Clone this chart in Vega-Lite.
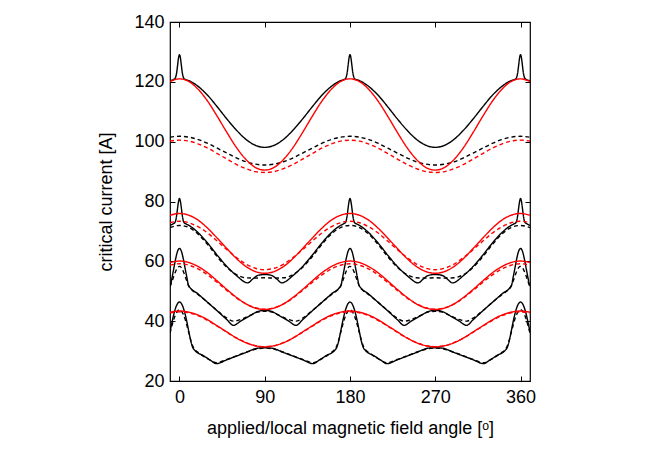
{
"$schema":"https://vega.github.io/schema/vega-lite/v6.json",
"width":360,"height":359,
"autosize":{"type":"none"},
"padding":{"left":170,"top":22,"right":124,"bottom":77},
"background":"white",
"config":{"view":{"stroke":"black","strokeWidth":1.2},"font":"Liberation Sans",
"axis":{"domain":false,"grid":false,"tickSize":-5,"tickColor":"black","tickWidth":1,"labelFont":"Liberation Sans","labelFontSize":18,"labelColor":"black","titleFont":"Liberation Sans","titleFontSize":18,"titleColor":"black","titleFontWeight":"normal"}},
"data":{"values":[
{"angle":-10,"Ic":120.4,"curve":"A1"},{"angle":-5,"Ic":121.0,"curve":"A1"},{"angle":-4,"Ic":121.6,"curve":"A1"},{"angle":-3,"Ic":123.0,"curve":"A1"},{"angle":-2,"Ic":125.5,"curve":"A1"},{"angle":-1,"Ic":128.0,"curve":"A1"},{"angle":0,"Ic":129.1,"curve":"A1"},{"angle":1,"Ic":128.0,"curve":"A1"},{"angle":2,"Ic":125.5,"curve":"A1"},{"angle":3,"Ic":123.0,"curve":"A1"},{"angle":4,"Ic":121.6,"curve":"A1"},{"angle":5,"Ic":121.0,"curve":"A1"},{"angle":10,"Ic":120.4,"curve":"A1"},{"angle":20,"Ic":118.4,"curve":"A1"},{"angle":30,"Ic":115.4,"curve":"A1"},{"angle":40,"Ic":111.6,"curve":"A1"},{"angle":50,"Ic":107.6,"curve":"A1"},{"angle":60,"Ic":103.9,"curve":"A1"},{"angle":70,"Ic":100.8,"curve":"A1"},{"angle":80,"Ic":98.8,"curve":"A1"},{"angle":90,"Ic":98.1,"curve":"A1"},
{"angle":100,"Ic":98.8,"curve":"A1"},{"angle":110,"Ic":100.8,"curve":"A1"},{"angle":120,"Ic":103.9,"curve":"A1"},{"angle":130,"Ic":107.6,"curve":"A1"},{"angle":140,"Ic":111.6,"curve":"A1"},{"angle":150,"Ic":115.4,"curve":"A1"},{"angle":160,"Ic":118.4,"curve":"A1"},{"angle":170,"Ic":120.4,"curve":"A1"},{"angle":175,"Ic":121.0,"curve":"A1"},{"angle":176,"Ic":121.6,"curve":"A1"},{"angle":177,"Ic":123.0,"curve":"A1"},{"angle":178,"Ic":125.5,"curve":"A1"},{"angle":179,"Ic":128.0,"curve":"A1"},{"angle":180,"Ic":129.1,"curve":"A1"},
{"angle":181,"Ic":128.0,"curve":"A1"},{"angle":182,"Ic":125.5,"curve":"A1"},{"angle":183,"Ic":123.0,"curve":"A1"},{"angle":184,"Ic":121.6,"curve":"A1"},{"angle":185,"Ic":121.0,"curve":"A1"},{"angle":190,"Ic":120.4,"curve":"A1"},{"angle":200,"Ic":118.4,"curve":"A1"},{"angle":210,"Ic":115.4,"curve":"A1"},{"angle":220,"Ic":111.6,"curve":"A1"},{"angle":230,"Ic":107.6,"curve":"A1"},{"angle":240,"Ic":103.9,"curve":"A1"},{"angle":250,"Ic":100.8,"curve":"A1"},{"angle":260,"Ic":98.8,"curve":"A1"},{"angle":270,"Ic":98.1,"curve":"A1"},
{"angle":280,"Ic":98.8,"curve":"A1"},{"angle":290,"Ic":100.8,"curve":"A1"},{"angle":300,"Ic":103.9,"curve":"A1"},{"angle":310,"Ic":107.6,"curve":"A1"},{"angle":320,"Ic":111.6,"curve":"A1"},{"angle":330,"Ic":115.4,"curve":"A1"},{"angle":340,"Ic":118.4,"curve":"A1"},{"angle":350,"Ic":120.4,"curve":"A1"},{"angle":355,"Ic":121.0,"curve":"A1"},{"angle":356,"Ic":121.6,"curve":"A1"},{"angle":357,"Ic":123.0,"curve":"A1"},{"angle":358,"Ic":125.5,"curve":"A1"},{"angle":359,"Ic":128.0,"curve":"A1"},{"angle":360,"Ic":129.1,"curve":"A1"},
{"angle":361,"Ic":128.0,"curve":"A1"},{"angle":362,"Ic":125.5,"curve":"A1"},{"angle":363,"Ic":123.0,"curve":"A1"},{"angle":364,"Ic":121.6,"curve":"A1"},{"angle":365,"Ic":121.0,"curve":"A1"},{"angle":370,"Ic":120.4,"curve":"A1"},

{"angle":-10,"Ic":101.5,"curve":"A2"},{"angle":0,"Ic":101.8,"curve":"A2"},{"angle":10,"Ic":101.5,"curve":"A2"},{"angle":20,"Ic":100.7,"curve":"A2"},{"angle":30,"Ic":99.4,"curve":"A2"},{"angle":40,"Ic":97.8,"curve":"A2"},{"angle":50,"Ic":96.2,"curve":"A2"},{"angle":60,"Ic":94.6,"curve":"A2"},{"angle":70,"Ic":93.3,"curve":"A2"},{"angle":80,"Ic":92.5,"curve":"A2"},{"angle":90,"Ic":92.2,"curve":"A2"},{"angle":100,"Ic":92.5,"curve":"A2"},{"angle":110,"Ic":93.3,"curve":"A2"},{"angle":120,"Ic":94.6,"curve":"A2"},{"angle":130,"Ic":96.2,"curve":"A2"},{"angle":140,"Ic":97.8,"curve":"A2"},{"angle":150,"Ic":99.4,"curve":"A2"},{"angle":160,"Ic":100.7,"curve":"A2"},{"angle":170,"Ic":101.5,"curve":"A2"},{"angle":180,"Ic":101.8,"curve":"A2"},{"angle":190,"Ic":101.5,"curve":"A2"},{"angle":200,"Ic":100.7,"curve":"A2"},{"angle":210,"Ic":99.4,"curve":"A2"},{"angle":220,"Ic":97.8,"curve":"A2"},{"angle":230,"Ic":96.2,"curve":"A2"},{"angle":240,"Ic":94.6,"curve":"A2"},{"angle":250,"Ic":93.3,"curve":"A2"},{"angle":260,"Ic":92.5,"curve":"A2"},{"angle":270,"Ic":92.2,"curve":"A2"},{"angle":280,"Ic":92.5,"curve":"A2"},{"angle":290,"Ic":93.3,"curve":"A2"},{"angle":300,"Ic":94.6,"curve":"A2"},{"angle":310,"Ic":96.2,"curve":"A2"},{"angle":320,"Ic":97.8,"curve":"A2"},{"angle":330,"Ic":99.4,"curve":"A2"},{"angle":340,"Ic":100.7,"curve":"A2"},{"angle":350,"Ic":101.5,"curve":"A2"},{"angle":360,"Ic":101.8,"curve":"A2"},{"angle":370,"Ic":101.5,"curve":"A2"},

{"angle":-10,"Ic":120.1,"curve":"A3"},{"angle":0,"Ic":121.0,"curve":"A3"},{"angle":10,"Ic":120.1,"curve":"A3"},{"angle":20,"Ic":117.4,"curve":"A3"},{"angle":30,"Ic":113.4,"curve":"A3"},{"angle":40,"Ic":108.4,"curve":"A3"},{"angle":50,"Ic":103.1,"curve":"A3"},{"angle":60,"Ic":98.1,"curve":"A3"},{"angle":70,"Ic":94.1,"curve":"A3"},{"angle":80,"Ic":91.4,"curve":"A3"},{"angle":90,"Ic":90.5,"curve":"A3"},{"angle":100,"Ic":91.4,"curve":"A3"},{"angle":110,"Ic":94.1,"curve":"A3"},{"angle":120,"Ic":98.1,"curve":"A3"},{"angle":130,"Ic":103.1,"curve":"A3"},{"angle":140,"Ic":108.4,"curve":"A3"},{"angle":150,"Ic":113.4,"curve":"A3"},{"angle":160,"Ic":117.4,"curve":"A3"},{"angle":170,"Ic":120.1,"curve":"A3"},{"angle":180,"Ic":121.0,"curve":"A3"},{"angle":190,"Ic":120.1,"curve":"A3"},{"angle":200,"Ic":117.4,"curve":"A3"},{"angle":210,"Ic":113.4,"curve":"A3"},{"angle":220,"Ic":108.4,"curve":"A3"},{"angle":230,"Ic":103.1,"curve":"A3"},{"angle":240,"Ic":98.1,"curve":"A3"},{"angle":250,"Ic":94.1,"curve":"A3"},{"angle":260,"Ic":91.4,"curve":"A3"},{"angle":270,"Ic":90.5,"curve":"A3"},{"angle":280,"Ic":91.4,"curve":"A3"},{"angle":290,"Ic":94.1,"curve":"A3"},{"angle":300,"Ic":98.1,"curve":"A3"},{"angle":310,"Ic":103.1,"curve":"A3"},{"angle":320,"Ic":108.4,"curve":"A3"},{"angle":330,"Ic":113.4,"curve":"A3"},{"angle":340,"Ic":117.4,"curve":"A3"},{"angle":350,"Ic":120.1,"curve":"A3"},{"angle":360,"Ic":121.0,"curve":"A3"},{"angle":370,"Ic":120.1,"curve":"A3"},

{"angle":-10,"Ic":100.2,"curve":"A4"},{"angle":0,"Ic":100.5,"curve":"A4"},{"angle":10,"Ic":100.2,"curve":"A4"},{"angle":20,"Ic":99.2,"curve":"A4"},{"angle":30,"Ic":97.8,"curve":"A4"},{"angle":40,"Ic":96.0,"curve":"A4"},{"angle":50,"Ic":94.2,"curve":"A4"},{"angle":60,"Ic":92.4,"curve":"A4"},{"angle":70,"Ic":91.0,"curve":"A4"},{"angle":80,"Ic":90.0,"curve":"A4"},{"angle":90,"Ic":89.7,"curve":"A4"},{"angle":100,"Ic":90.0,"curve":"A4"},{"angle":110,"Ic":91.0,"curve":"A4"},{"angle":120,"Ic":92.4,"curve":"A4"},{"angle":130,"Ic":94.2,"curve":"A4"},{"angle":140,"Ic":96.0,"curve":"A4"},{"angle":150,"Ic":97.8,"curve":"A4"},{"angle":160,"Ic":99.2,"curve":"A4"},{"angle":170,"Ic":100.2,"curve":"A4"},{"angle":180,"Ic":100.5,"curve":"A4"},{"angle":190,"Ic":100.2,"curve":"A4"},{"angle":200,"Ic":99.2,"curve":"A4"},{"angle":210,"Ic":97.8,"curve":"A4"},{"angle":220,"Ic":96.0,"curve":"A4"},{"angle":230,"Ic":94.2,"curve":"A4"},{"angle":240,"Ic":92.4,"curve":"A4"},{"angle":250,"Ic":91.0,"curve":"A4"},{"angle":260,"Ic":90.0,"curve":"A4"},{"angle":270,"Ic":89.7,"curve":"A4"},{"angle":280,"Ic":90.0,"curve":"A4"},{"angle":290,"Ic":91.0,"curve":"A4"},{"angle":300,"Ic":92.4,"curve":"A4"},{"angle":310,"Ic":94.2,"curve":"A4"},{"angle":320,"Ic":96.0,"curve":"A4"},{"angle":330,"Ic":97.8,"curve":"A4"},{"angle":340,"Ic":99.2,"curve":"A4"},{"angle":350,"Ic":100.2,"curve":"A4"},{"angle":360,"Ic":100.5,"curve":"A4"},{"angle":370,"Ic":100.2,"curve":"A4"},

{"angle":-10,"Ic":72.0,"curve":"B1"},{"angle":-7,"Ic":72.5,"curve":"B1"},{"angle":-5,"Ic":72.9,"curve":"B1"},{"angle":-4,"Ic":73.6,"curve":"B1"},{"angle":-3,"Ic":75.3,"curve":"B1"},{"angle":-2,"Ic":77.8,"curve":"B1"},{"angle":-1,"Ic":80.0,"curve":"B1"},{"angle":0,"Ic":81.0,"curve":"B1"},{"angle":1,"Ic":80.0,"curve":"B1"},{"angle":2,"Ic":77.8,"curve":"B1"},{"angle":3,"Ic":75.3,"curve":"B1"},{"angle":4,"Ic":73.6,"curve":"B1"},{"angle":5,"Ic":72.9,"curve":"B1"},{"angle":7,"Ic":72.5,"curve":"B1"},{"angle":10,"Ic":72.0,"curve":"B1"},{"angle":20,"Ic":69.5,"curve":"B1"},{"angle":30,"Ic":66.0,"curve":"B1"},{"angle":40,"Ic":62.0,"curve":"B1"},{"angle":50,"Ic":58.3,"curve":"B1"},{"angle":60,"Ic":55.3,"curve":"B1"},{"angle":72,"Ic":52.8,"curve":"B1"},{"angle":77,"Ic":54.0,"curve":"B1"},{"angle":82,"Ic":55.2,"curve":"B1"},{"angle":86,"Ic":55.5,"curve":"B1"},{"angle":90,"Ic":55.6,"curve":"B1"},
{"angle":94,"Ic":55.5,"curve":"B1"},{"angle":98,"Ic":55.2,"curve":"B1"},{"angle":103,"Ic":54.0,"curve":"B1"},{"angle":108,"Ic":52.8,"curve":"B1"},{"angle":120,"Ic":55.3,"curve":"B1"},{"angle":130,"Ic":58.3,"curve":"B1"},{"angle":140,"Ic":62.0,"curve":"B1"},{"angle":150,"Ic":66.0,"curve":"B1"},{"angle":160,"Ic":69.5,"curve":"B1"},{"angle":170,"Ic":72.0,"curve":"B1"},{"angle":173,"Ic":72.5,"curve":"B1"},{"angle":175,"Ic":72.9,"curve":"B1"},{"angle":176,"Ic":73.6,"curve":"B1"},{"angle":177,"Ic":75.3,"curve":"B1"},{"angle":178,"Ic":77.8,"curve":"B1"},{"angle":179,"Ic":80.0,"curve":"B1"},{"angle":180,"Ic":81.0,"curve":"B1"},
{"angle":181,"Ic":80.0,"curve":"B1"},{"angle":182,"Ic":77.8,"curve":"B1"},{"angle":183,"Ic":75.3,"curve":"B1"},{"angle":184,"Ic":73.6,"curve":"B1"},{"angle":185,"Ic":72.9,"curve":"B1"},{"angle":187,"Ic":72.5,"curve":"B1"},{"angle":190,"Ic":72.0,"curve":"B1"},{"angle":200,"Ic":69.5,"curve":"B1"},{"angle":210,"Ic":66.0,"curve":"B1"},{"angle":220,"Ic":62.0,"curve":"B1"},{"angle":230,"Ic":58.3,"curve":"B1"},{"angle":240,"Ic":55.3,"curve":"B1"},{"angle":252,"Ic":52.8,"curve":"B1"},{"angle":257,"Ic":54.0,"curve":"B1"},{"angle":262,"Ic":55.2,"curve":"B1"},{"angle":266,"Ic":55.5,"curve":"B1"},{"angle":270,"Ic":55.6,"curve":"B1"},
{"angle":274,"Ic":55.5,"curve":"B1"},{"angle":278,"Ic":55.2,"curve":"B1"},{"angle":283,"Ic":54.0,"curve":"B1"},{"angle":288,"Ic":52.8,"curve":"B1"},{"angle":300,"Ic":55.3,"curve":"B1"},{"angle":310,"Ic":58.3,"curve":"B1"},{"angle":320,"Ic":62.0,"curve":"B1"},{"angle":330,"Ic":66.0,"curve":"B1"},{"angle":340,"Ic":69.5,"curve":"B1"},{"angle":350,"Ic":72.0,"curve":"B1"},{"angle":353,"Ic":72.5,"curve":"B1"},{"angle":355,"Ic":72.9,"curve":"B1"},{"angle":356,"Ic":73.6,"curve":"B1"},{"angle":357,"Ic":75.3,"curve":"B1"},{"angle":358,"Ic":77.8,"curve":"B1"},{"angle":359,"Ic":80.0,"curve":"B1"},{"angle":360,"Ic":81.0,"curve":"B1"},
{"angle":361,"Ic":80.0,"curve":"B1"},{"angle":362,"Ic":77.8,"curve":"B1"},{"angle":363,"Ic":75.3,"curve":"B1"},{"angle":364,"Ic":73.6,"curve":"B1"},{"angle":365,"Ic":72.9,"curve":"B1"},{"angle":367,"Ic":72.5,"curve":"B1"},{"angle":370,"Ic":72.0,"curve":"B1"},

{"angle":-10,"Ic":71.3,"curve":"B2"},{"angle":0,"Ic":72.0,"curve":"B2"},{"angle":10,"Ic":71.3,"curve":"B2"},{"angle":20,"Ic":69.0,"curve":"B2"},{"angle":30,"Ic":65.5,"curve":"B2"},{"angle":40,"Ic":61.5,"curve":"B2"},{"angle":50,"Ic":58.0,"curve":"B2"},{"angle":60,"Ic":55.6,"curve":"B2"},{"angle":70,"Ic":54.5,"curve":"B2"},{"angle":80,"Ic":54.4,"curve":"B2"},{"angle":90,"Ic":54.5,"curve":"B2"},{"angle":100,"Ic":54.4,"curve":"B2"},{"angle":110,"Ic":54.5,"curve":"B2"},{"angle":120,"Ic":55.6,"curve":"B2"},{"angle":130,"Ic":58.0,"curve":"B2"},{"angle":140,"Ic":61.5,"curve":"B2"},{"angle":150,"Ic":65.5,"curve":"B2"},{"angle":160,"Ic":69.0,"curve":"B2"},{"angle":170,"Ic":71.3,"curve":"B2"},{"angle":180,"Ic":72.0,"curve":"B2"},{"angle":190,"Ic":71.3,"curve":"B2"},{"angle":200,"Ic":69.0,"curve":"B2"},{"angle":210,"Ic":65.5,"curve":"B2"},{"angle":220,"Ic":61.5,"curve":"B2"},{"angle":230,"Ic":58.0,"curve":"B2"},{"angle":240,"Ic":55.6,"curve":"B2"},{"angle":250,"Ic":54.5,"curve":"B2"},{"angle":260,"Ic":54.4,"curve":"B2"},{"angle":270,"Ic":54.5,"curve":"B2"},{"angle":280,"Ic":54.4,"curve":"B2"},{"angle":290,"Ic":54.5,"curve":"B2"},{"angle":300,"Ic":55.6,"curve":"B2"},{"angle":310,"Ic":58.0,"curve":"B2"},{"angle":320,"Ic":61.5,"curve":"B2"},{"angle":330,"Ic":65.5,"curve":"B2"},{"angle":340,"Ic":69.0,"curve":"B2"},{"angle":350,"Ic":71.3,"curve":"B2"},{"angle":360,"Ic":72.0,"curve":"B2"},{"angle":370,"Ic":71.3,"curve":"B2"},

{"angle":-10,"Ic":75.4,"curve":"B3"},{"angle":0,"Ic":76.0,"curve":"B3"},{"angle":10,"Ic":75.4,"curve":"B3"},{"angle":20,"Ic":73.7,"curve":"B3"},{"angle":30,"Ic":71.0,"curve":"B3"},{"angle":40,"Ic":67.7,"curve":"B3"},{"angle":50,"Ic":64.3,"curve":"B3"},{"angle":60,"Ic":61.0,"curve":"B3"},{"angle":70,"Ic":58.3,"curve":"B3"},{"angle":80,"Ic":56.6,"curve":"B3"},{"angle":90,"Ic":56.0,"curve":"B3"},{"angle":100,"Ic":56.6,"curve":"B3"},{"angle":110,"Ic":58.3,"curve":"B3"},{"angle":120,"Ic":61.0,"curve":"B3"},{"angle":130,"Ic":64.3,"curve":"B3"},{"angle":140,"Ic":67.7,"curve":"B3"},{"angle":150,"Ic":71.0,"curve":"B3"},{"angle":160,"Ic":73.7,"curve":"B3"},{"angle":170,"Ic":75.4,"curve":"B3"},{"angle":180,"Ic":76.0,"curve":"B3"},{"angle":190,"Ic":75.4,"curve":"B3"},{"angle":200,"Ic":73.7,"curve":"B3"},{"angle":210,"Ic":71.0,"curve":"B3"},{"angle":220,"Ic":67.7,"curve":"B3"},{"angle":230,"Ic":64.3,"curve":"B3"},{"angle":240,"Ic":61.0,"curve":"B3"},{"angle":250,"Ic":58.3,"curve":"B3"},{"angle":260,"Ic":56.6,"curve":"B3"},{"angle":270,"Ic":56.0,"curve":"B3"},{"angle":280,"Ic":56.6,"curve":"B3"},{"angle":290,"Ic":58.3,"curve":"B3"},{"angle":300,"Ic":61.0,"curve":"B3"},{"angle":310,"Ic":64.3,"curve":"B3"},{"angle":320,"Ic":67.7,"curve":"B3"},{"angle":330,"Ic":71.0,"curve":"B3"},{"angle":340,"Ic":73.7,"curve":"B3"},{"angle":350,"Ic":75.4,"curve":"B3"},{"angle":360,"Ic":76.0,"curve":"B3"},{"angle":370,"Ic":75.4,"curve":"B3"},

{"angle":-10,"Ic":72.9,"curve":"B4"},{"angle":0,"Ic":73.4,"curve":"B4"},{"angle":10,"Ic":72.9,"curve":"B4"},{"angle":20,"Ic":71.5,"curve":"B4"},{"angle":30,"Ic":69.4,"curve":"B4"},{"angle":40,"Ic":66.7,"curve":"B4"},{"angle":50,"Ic":63.9,"curve":"B4"},{"angle":60,"Ic":61.3,"curve":"B4"},{"angle":70,"Ic":59.1,"curve":"B4"},{"angle":80,"Ic":57.7,"curve":"B4"},{"angle":90,"Ic":57.2,"curve":"B4"},{"angle":100,"Ic":57.7,"curve":"B4"},{"angle":110,"Ic":59.1,"curve":"B4"},{"angle":120,"Ic":61.3,"curve":"B4"},{"angle":130,"Ic":63.9,"curve":"B4"},{"angle":140,"Ic":66.7,"curve":"B4"},{"angle":150,"Ic":69.4,"curve":"B4"},{"angle":160,"Ic":71.5,"curve":"B4"},{"angle":170,"Ic":72.9,"curve":"B4"},{"angle":180,"Ic":73.4,"curve":"B4"},{"angle":190,"Ic":72.9,"curve":"B4"},{"angle":200,"Ic":71.5,"curve":"B4"},{"angle":210,"Ic":69.4,"curve":"B4"},{"angle":220,"Ic":66.7,"curve":"B4"},{"angle":230,"Ic":63.9,"curve":"B4"},{"angle":240,"Ic":61.3,"curve":"B4"},{"angle":250,"Ic":59.1,"curve":"B4"},{"angle":260,"Ic":57.7,"curve":"B4"},{"angle":270,"Ic":57.2,"curve":"B4"},{"angle":280,"Ic":57.7,"curve":"B4"},{"angle":290,"Ic":59.1,"curve":"B4"},{"angle":300,"Ic":61.3,"curve":"B4"},{"angle":310,"Ic":63.9,"curve":"B4"},{"angle":320,"Ic":66.7,"curve":"B4"},{"angle":330,"Ic":69.4,"curve":"B4"},{"angle":340,"Ic":71.5,"curve":"B4"},{"angle":350,"Ic":72.9,"curve":"B4"},{"angle":360,"Ic":73.4,"curve":"B4"},{"angle":370,"Ic":72.9,"curve":"B4"},

{"angle":-10,"Ic":51.9,"curve":"C1"},{"angle":-9.5,"Ic":52.0,"curve":"C1"},{"angle":-8,"Ic":54.3,"curve":"C1"},{"angle":-6,"Ic":57.6,"curve":"C1"},{"angle":-4,"Ic":60.9,"curve":"C1"},{"angle":-2,"Ic":63.4,"curve":"C1"},{"angle":0,"Ic":64.3,"curve":"C1"},{"angle":2,"Ic":63.4,"curve":"C1"},{"angle":4,"Ic":60.9,"curve":"C1"},{"angle":6,"Ic":57.6,"curve":"C1"},{"angle":8,"Ic":54.3,"curve":"C1"},{"angle":9.5,"Ic":52.0,"curve":"C1"},{"angle":20,"Ic":49.0,"curve":"C1"},{"angle":30,"Ic":46.2,"curve":"C1"},{"angle":40,"Ic":43.4,"curve":"C1"},{"angle":50,"Ic":40.5,"curve":"C1"},{"angle":57,"Ic":38.6,"curve":"C1"},{"angle":65,"Ic":40.1,"curve":"C1"},{"angle":75,"Ic":41.9,"curve":"C1"},{"angle":81.5,"Ic":43.1,"curve":"C1"},{"angle":86,"Ic":43.5,"curve":"C1"},{"angle":90,"Ic":43.6,"curve":"C1"},
{"angle":94,"Ic":43.5,"curve":"C1"},{"angle":98.5,"Ic":43.1,"curve":"C1"},{"angle":105,"Ic":41.9,"curve":"C1"},{"angle":115,"Ic":40.1,"curve":"C1"},{"angle":123,"Ic":38.6,"curve":"C1"},{"angle":130,"Ic":40.5,"curve":"C1"},{"angle":140,"Ic":43.4,"curve":"C1"},{"angle":150,"Ic":46.2,"curve":"C1"},{"angle":160,"Ic":49.0,"curve":"C1"},{"angle":170.5,"Ic":52.0,"curve":"C1"},{"angle":172,"Ic":54.3,"curve":"C1"},{"angle":174,"Ic":57.6,"curve":"C1"},{"angle":176,"Ic":60.9,"curve":"C1"},{"angle":178,"Ic":63.4,"curve":"C1"},{"angle":180,"Ic":64.3,"curve":"C1"},
{"angle":182,"Ic":63.4,"curve":"C1"},{"angle":184,"Ic":60.9,"curve":"C1"},{"angle":186,"Ic":57.6,"curve":"C1"},{"angle":188,"Ic":54.3,"curve":"C1"},{"angle":189.5,"Ic":52.0,"curve":"C1"},{"angle":200,"Ic":49.0,"curve":"C1"},{"angle":210,"Ic":46.2,"curve":"C1"},{"angle":220,"Ic":43.4,"curve":"C1"},{"angle":230,"Ic":40.5,"curve":"C1"},{"angle":237,"Ic":38.6,"curve":"C1"},{"angle":245,"Ic":40.1,"curve":"C1"},{"angle":255,"Ic":41.9,"curve":"C1"},{"angle":261.5,"Ic":43.1,"curve":"C1"},{"angle":266,"Ic":43.5,"curve":"C1"},{"angle":270,"Ic":43.6,"curve":"C1"},
{"angle":274,"Ic":43.5,"curve":"C1"},{"angle":278.5,"Ic":43.1,"curve":"C1"},{"angle":285,"Ic":41.9,"curve":"C1"},{"angle":295,"Ic":40.1,"curve":"C1"},{"angle":303,"Ic":38.6,"curve":"C1"},{"angle":310,"Ic":40.5,"curve":"C1"},{"angle":320,"Ic":43.4,"curve":"C1"},{"angle":330,"Ic":46.2,"curve":"C1"},{"angle":340,"Ic":49.0,"curve":"C1"},{"angle":350.5,"Ic":52.0,"curve":"C1"},{"angle":352,"Ic":54.3,"curve":"C1"},{"angle":354,"Ic":57.6,"curve":"C1"},{"angle":356,"Ic":60.9,"curve":"C1"},{"angle":358,"Ic":63.4,"curve":"C1"},{"angle":360,"Ic":64.3,"curve":"C1"},
{"angle":362,"Ic":63.4,"curve":"C1"},{"angle":364,"Ic":60.9,"curve":"C1"},{"angle":366,"Ic":57.6,"curve":"C1"},{"angle":368,"Ic":54.3,"curve":"C1"},{"angle":369.5,"Ic":52.0,"curve":"C1"},{"angle":370,"Ic":51.9,"curve":"C1"},

{"angle":-10,"Ic":51.6,"curve":"C2"},{"angle":-8,"Ic":53.2,"curve":"C2"},{"angle":-6,"Ic":55.0,"curve":"C2"},{"angle":-4,"Ic":56.7,"curve":"C2"},{"angle":-2,"Ic":57.9,"curve":"C2"},{"angle":0,"Ic":58.3,"curve":"C2"},{"angle":2,"Ic":57.9,"curve":"C2"},{"angle":4,"Ic":56.7,"curve":"C2"},{"angle":6,"Ic":55.0,"curve":"C2"},{"angle":8,"Ic":53.2,"curve":"C2"},{"angle":10,"Ic":51.6,"curve":"C2"},{"angle":14,"Ic":50.2,"curve":"C2"},{"angle":20,"Ic":48.8,"curve":"C2"},{"angle":30,"Ic":46.2,"curve":"C2"},{"angle":40,"Ic":43.5,"curve":"C2"},{"angle":50,"Ic":41.0,"curve":"C2"},{"angle":57,"Ic":40.0,"curve":"C2"},{"angle":65,"Ic":40.6,"curve":"C2"},{"angle":75,"Ic":42.0,"curve":"C2"},{"angle":82,"Ic":43.0,"curve":"C2"},{"angle":90,"Ic":43.3,"curve":"C2"},
{"angle":98,"Ic":43.0,"curve":"C2"},{"angle":105,"Ic":42.0,"curve":"C2"},{"angle":115,"Ic":40.6,"curve":"C2"},{"angle":123,"Ic":40.0,"curve":"C2"},{"angle":130,"Ic":41.0,"curve":"C2"},{"angle":140,"Ic":43.5,"curve":"C2"},{"angle":150,"Ic":46.2,"curve":"C2"},{"angle":160,"Ic":48.8,"curve":"C2"},{"angle":166,"Ic":50.2,"curve":"C2"},{"angle":170,"Ic":51.6,"curve":"C2"},{"angle":172,"Ic":53.2,"curve":"C2"},{"angle":174,"Ic":55.0,"curve":"C2"},{"angle":176,"Ic":56.7,"curve":"C2"},{"angle":178,"Ic":57.9,"curve":"C2"},{"angle":180,"Ic":58.3,"curve":"C2"},
{"angle":182,"Ic":57.9,"curve":"C2"},{"angle":184,"Ic":56.7,"curve":"C2"},{"angle":186,"Ic":55.0,"curve":"C2"},{"angle":188,"Ic":53.2,"curve":"C2"},{"angle":190,"Ic":51.6,"curve":"C2"},{"angle":194,"Ic":50.2,"curve":"C2"},{"angle":200,"Ic":48.8,"curve":"C2"},{"angle":210,"Ic":46.2,"curve":"C2"},{"angle":220,"Ic":43.5,"curve":"C2"},{"angle":230,"Ic":41.0,"curve":"C2"},{"angle":237,"Ic":40.0,"curve":"C2"},{"angle":245,"Ic":40.6,"curve":"C2"},{"angle":255,"Ic":42.0,"curve":"C2"},{"angle":262,"Ic":43.0,"curve":"C2"},{"angle":270,"Ic":43.3,"curve":"C2"},
{"angle":278,"Ic":43.0,"curve":"C2"},{"angle":285,"Ic":42.0,"curve":"C2"},{"angle":295,"Ic":40.6,"curve":"C2"},{"angle":303,"Ic":40.0,"curve":"C2"},{"angle":310,"Ic":41.0,"curve":"C2"},{"angle":320,"Ic":43.5,"curve":"C2"},{"angle":330,"Ic":46.2,"curve":"C2"},{"angle":340,"Ic":48.8,"curve":"C2"},{"angle":346,"Ic":50.2,"curve":"C2"},{"angle":350,"Ic":51.6,"curve":"C2"},{"angle":352,"Ic":53.2,"curve":"C2"},{"angle":354,"Ic":55.0,"curve":"C2"},{"angle":356,"Ic":56.7,"curve":"C2"},{"angle":358,"Ic":57.9,"curve":"C2"},{"angle":360,"Ic":58.3,"curve":"C2"},
{"angle":362,"Ic":57.9,"curve":"C2"},{"angle":364,"Ic":56.7,"curve":"C2"},{"angle":366,"Ic":55.0,"curve":"C2"},{"angle":368,"Ic":53.2,"curve":"C2"},{"angle":370,"Ic":51.6,"curve":"C2"},

{"angle":-10,"Ic":59.6,"curve":"C3"},{"angle":0,"Ic":60.1,"curve":"C3"},{"angle":10,"Ic":59.6,"curve":"C3"},{"angle":20,"Ic":58.2,"curve":"C3"},{"angle":30,"Ic":56.1,"curve":"C3"},{"angle":40,"Ic":53.4,"curve":"C3"},{"angle":50,"Ic":50.6,"curve":"C3"},{"angle":60,"Ic":48.0,"curve":"C3"},{"angle":70,"Ic":45.8,"curve":"C3"},{"angle":80,"Ic":44.4,"curve":"C3"},{"angle":90,"Ic":43.9,"curve":"C3"},{"angle":100,"Ic":44.4,"curve":"C3"},{"angle":110,"Ic":45.8,"curve":"C3"},{"angle":120,"Ic":48.0,"curve":"C3"},{"angle":130,"Ic":50.6,"curve":"C3"},{"angle":140,"Ic":53.4,"curve":"C3"},{"angle":150,"Ic":56.1,"curve":"C3"},{"angle":160,"Ic":58.2,"curve":"C3"},{"angle":170,"Ic":59.6,"curve":"C3"},{"angle":180,"Ic":60.1,"curve":"C3"},{"angle":190,"Ic":59.6,"curve":"C3"},{"angle":200,"Ic":58.2,"curve":"C3"},{"angle":210,"Ic":56.1,"curve":"C3"},{"angle":220,"Ic":53.4,"curve":"C3"},{"angle":230,"Ic":50.6,"curve":"C3"},{"angle":240,"Ic":48.0,"curve":"C3"},{"angle":250,"Ic":45.8,"curve":"C3"},{"angle":260,"Ic":44.4,"curve":"C3"},{"angle":270,"Ic":43.9,"curve":"C3"},{"angle":280,"Ic":44.4,"curve":"C3"},{"angle":290,"Ic":45.8,"curve":"C3"},{"angle":300,"Ic":48.0,"curve":"C3"},{"angle":310,"Ic":50.6,"curve":"C3"},{"angle":320,"Ic":53.4,"curve":"C3"},{"angle":330,"Ic":56.1,"curve":"C3"},{"angle":340,"Ic":58.2,"curve":"C3"},{"angle":350,"Ic":59.6,"curve":"C3"},{"angle":360,"Ic":60.1,"curve":"C3"},{"angle":370,"Ic":59.6,"curve":"C3"},

{"angle":-10,"Ic":58.7,"curve":"C4"},{"angle":0,"Ic":59.2,"curve":"C4"},{"angle":10,"Ic":58.7,"curve":"C4"},{"angle":20,"Ic":57.4,"curve":"C4"},{"angle":30,"Ic":55.4,"curve":"C4"},{"angle":40,"Ic":52.9,"curve":"C4"},{"angle":50,"Ic":50.3,"curve":"C4"},{"angle":60,"Ic":47.8,"curve":"C4"},{"angle":70,"Ic":45.8,"curve":"C4"},{"angle":80,"Ic":44.5,"curve":"C4"},{"angle":90,"Ic":44.0,"curve":"C4"},{"angle":100,"Ic":44.5,"curve":"C4"},{"angle":110,"Ic":45.8,"curve":"C4"},{"angle":120,"Ic":47.8,"curve":"C4"},{"angle":130,"Ic":50.3,"curve":"C4"},{"angle":140,"Ic":52.9,"curve":"C4"},{"angle":150,"Ic":55.4,"curve":"C4"},{"angle":160,"Ic":57.4,"curve":"C4"},{"angle":170,"Ic":58.7,"curve":"C4"},{"angle":180,"Ic":59.2,"curve":"C4"},{"angle":190,"Ic":58.7,"curve":"C4"},{"angle":200,"Ic":57.4,"curve":"C4"},{"angle":210,"Ic":55.4,"curve":"C4"},{"angle":220,"Ic":52.9,"curve":"C4"},{"angle":230,"Ic":50.3,"curve":"C4"},{"angle":240,"Ic":47.8,"curve":"C4"},{"angle":250,"Ic":45.8,"curve":"C4"},{"angle":260,"Ic":44.5,"curve":"C4"},{"angle":270,"Ic":44.0,"curve":"C4"},{"angle":280,"Ic":44.5,"curve":"C4"},{"angle":290,"Ic":45.8,"curve":"C4"},{"angle":300,"Ic":47.8,"curve":"C4"},{"angle":310,"Ic":50.3,"curve":"C4"},{"angle":320,"Ic":52.9,"curve":"C4"},{"angle":330,"Ic":55.4,"curve":"C4"},{"angle":340,"Ic":57.4,"curve":"C4"},{"angle":350,"Ic":58.7,"curve":"C4"},{"angle":360,"Ic":59.2,"curve":"C4"},{"angle":370,"Ic":58.7,"curve":"C4"},

{"angle":-10,"Ic":36.3,"curve":"D1"},{"angle":-8,"Ic":39.5,"curve":"D1"},{"angle":-6,"Ic":42.3,"curve":"D1"},{"angle":-4,"Ic":44.5,"curve":"D1"},{"angle":-2,"Ic":45.9,"curve":"D1"},{"angle":0,"Ic":46.4,"curve":"D1"},{"angle":2,"Ic":45.9,"curve":"D1"},{"angle":4,"Ic":44.5,"curve":"D1"},{"angle":6,"Ic":42.3,"curve":"D1"},{"angle":8,"Ic":39.5,"curve":"D1"},{"angle":10,"Ic":36.3,"curve":"D1"},{"angle":12,"Ic":33.3,"curve":"D1"},{"angle":14,"Ic":31.2,"curve":"D1"},{"angle":16,"Ic":30.3,"curve":"D1"},{"angle":25,"Ic":28.5,"curve":"D1"},{"angle":32,"Ic":27.1,"curve":"D1"},{"angle":39,"Ic":25.8,"curve":"D1"},{"angle":50,"Ic":27.1,"curve":"D1"},{"angle":60,"Ic":28.3,"curve":"D1"},{"angle":70,"Ic":29.5,"curve":"D1"},{"angle":83,"Ic":31.0,"curve":"D1"},{"angle":90,"Ic":31.1,"curve":"D1"},
{"angle":97,"Ic":31.0,"curve":"D1"},{"angle":110,"Ic":29.5,"curve":"D1"},{"angle":120,"Ic":28.3,"curve":"D1"},{"angle":130,"Ic":27.1,"curve":"D1"},{"angle":141,"Ic":25.8,"curve":"D1"},{"angle":148,"Ic":27.1,"curve":"D1"},{"angle":155,"Ic":28.5,"curve":"D1"},{"angle":164,"Ic":30.3,"curve":"D1"},{"angle":166,"Ic":31.2,"curve":"D1"},{"angle":168,"Ic":33.3,"curve":"D1"},{"angle":170,"Ic":36.3,"curve":"D1"},{"angle":172,"Ic":39.5,"curve":"D1"},{"angle":174,"Ic":42.3,"curve":"D1"},{"angle":176,"Ic":44.5,"curve":"D1"},{"angle":178,"Ic":45.9,"curve":"D1"},{"angle":180,"Ic":46.4,"curve":"D1"},
{"angle":182,"Ic":45.9,"curve":"D1"},{"angle":184,"Ic":44.5,"curve":"D1"},{"angle":186,"Ic":42.3,"curve":"D1"},{"angle":188,"Ic":39.5,"curve":"D1"},{"angle":190,"Ic":36.3,"curve":"D1"},{"angle":192,"Ic":33.3,"curve":"D1"},{"angle":194,"Ic":31.2,"curve":"D1"},{"angle":196,"Ic":30.3,"curve":"D1"},{"angle":205,"Ic":28.5,"curve":"D1"},{"angle":212,"Ic":27.1,"curve":"D1"},{"angle":219,"Ic":25.8,"curve":"D1"},{"angle":230,"Ic":27.1,"curve":"D1"},{"angle":240,"Ic":28.3,"curve":"D1"},{"angle":250,"Ic":29.5,"curve":"D1"},{"angle":263,"Ic":31.0,"curve":"D1"},{"angle":270,"Ic":31.1,"curve":"D1"},
{"angle":277,"Ic":31.0,"curve":"D1"},{"angle":290,"Ic":29.5,"curve":"D1"},{"angle":300,"Ic":28.3,"curve":"D1"},{"angle":310,"Ic":27.1,"curve":"D1"},{"angle":321,"Ic":25.8,"curve":"D1"},{"angle":328,"Ic":27.1,"curve":"D1"},{"angle":335,"Ic":28.5,"curve":"D1"},{"angle":344,"Ic":30.3,"curve":"D1"},{"angle":346,"Ic":31.2,"curve":"D1"},{"angle":348,"Ic":33.3,"curve":"D1"},{"angle":350,"Ic":36.3,"curve":"D1"},{"angle":352,"Ic":39.5,"curve":"D1"},{"angle":354,"Ic":42.3,"curve":"D1"},{"angle":356,"Ic":44.5,"curve":"D1"},{"angle":358,"Ic":45.9,"curve":"D1"},{"angle":360,"Ic":46.4,"curve":"D1"},
{"angle":362,"Ic":45.9,"curve":"D1"},{"angle":364,"Ic":44.5,"curve":"D1"},{"angle":366,"Ic":42.3,"curve":"D1"},{"angle":368,"Ic":39.5,"curve":"D1"},{"angle":370,"Ic":36.3,"curve":"D1"},

{"angle":-10,"Ic":36.0,"curve":"D2"},{"angle":-8,"Ic":38.4,"curve":"D2"},{"angle":-6,"Ic":40.6,"curve":"D2"},{"angle":-4,"Ic":42.3,"curve":"D2"},{"angle":-2,"Ic":43.4,"curve":"D2"},{"angle":0,"Ic":43.8,"curve":"D2"},{"angle":2,"Ic":43.4,"curve":"D2"},{"angle":4,"Ic":42.3,"curve":"D2"},{"angle":6,"Ic":40.6,"curve":"D2"},{"angle":8,"Ic":38.4,"curve":"D2"},{"angle":10,"Ic":36.0,"curve":"D2"},{"angle":12,"Ic":33.6,"curve":"D2"},{"angle":14,"Ic":31.7,"curve":"D2"},{"angle":16,"Ic":30.6,"curve":"D2"},{"angle":20,"Ic":29.5,"curve":"D2"},{"angle":30,"Ic":27.4,"curve":"D2"},{"angle":39,"Ic":26.1,"curve":"D2"},{"angle":50,"Ic":27.2,"curve":"D2"},{"angle":60,"Ic":28.4,"curve":"D2"},{"angle":70,"Ic":29.6,"curve":"D2"},{"angle":80,"Ic":30.6,"curve":"D2"},{"angle":90,"Ic":31.0,"curve":"D2"},
{"angle":100,"Ic":30.6,"curve":"D2"},{"angle":110,"Ic":29.6,"curve":"D2"},{"angle":120,"Ic":28.4,"curve":"D2"},{"angle":130,"Ic":27.2,"curve":"D2"},{"angle":141,"Ic":26.1,"curve":"D2"},{"angle":150,"Ic":27.4,"curve":"D2"},{"angle":160,"Ic":29.5,"curve":"D2"},{"angle":164,"Ic":30.6,"curve":"D2"},{"angle":166,"Ic":31.7,"curve":"D2"},{"angle":168,"Ic":33.6,"curve":"D2"},{"angle":170,"Ic":36.0,"curve":"D2"},{"angle":172,"Ic":38.4,"curve":"D2"},{"angle":174,"Ic":40.6,"curve":"D2"},{"angle":176,"Ic":42.3,"curve":"D2"},{"angle":178,"Ic":43.4,"curve":"D2"},{"angle":180,"Ic":43.8,"curve":"D2"},
{"angle":182,"Ic":43.4,"curve":"D2"},{"angle":184,"Ic":42.3,"curve":"D2"},{"angle":186,"Ic":40.6,"curve":"D2"},{"angle":188,"Ic":38.4,"curve":"D2"},{"angle":190,"Ic":36.0,"curve":"D2"},{"angle":192,"Ic":33.6,"curve":"D2"},{"angle":194,"Ic":31.7,"curve":"D2"},{"angle":196,"Ic":30.6,"curve":"D2"},{"angle":200,"Ic":29.5,"curve":"D2"},{"angle":210,"Ic":27.4,"curve":"D2"},{"angle":219,"Ic":26.1,"curve":"D2"},{"angle":230,"Ic":27.2,"curve":"D2"},{"angle":240,"Ic":28.4,"curve":"D2"},{"angle":250,"Ic":29.6,"curve":"D2"},{"angle":260,"Ic":30.6,"curve":"D2"},{"angle":270,"Ic":31.0,"curve":"D2"},
{"angle":280,"Ic":30.6,"curve":"D2"},{"angle":290,"Ic":29.6,"curve":"D2"},{"angle":300,"Ic":28.4,"curve":"D2"},{"angle":310,"Ic":27.2,"curve":"D2"},{"angle":321,"Ic":26.1,"curve":"D2"},{"angle":330,"Ic":27.4,"curve":"D2"},{"angle":340,"Ic":29.5,"curve":"D2"},{"angle":344,"Ic":30.6,"curve":"D2"},{"angle":346,"Ic":31.7,"curve":"D2"},{"angle":348,"Ic":33.6,"curve":"D2"},{"angle":350,"Ic":36.0,"curve":"D2"},{"angle":352,"Ic":38.4,"curve":"D2"},{"angle":354,"Ic":40.6,"curve":"D2"},{"angle":356,"Ic":42.3,"curve":"D2"},{"angle":358,"Ic":43.4,"curve":"D2"},{"angle":360,"Ic":43.8,"curve":"D2"},
{"angle":362,"Ic":43.4,"curve":"D2"},{"angle":364,"Ic":42.3,"curve":"D2"},{"angle":366,"Ic":40.6,"curve":"D2"},{"angle":368,"Ic":38.4,"curve":"D2"},{"angle":370,"Ic":36.0,"curve":"D2"},

{"angle":-10,"Ic":43.0,"curve":"D3"},{"angle":0,"Ic":43.4,"curve":"D3"},{"angle":10,"Ic":43.0,"curve":"D3"},{"angle":20,"Ic":42.0,"curve":"D3"},{"angle":30,"Ic":40.4,"curve":"D3"},{"angle":40,"Ic":38.4,"curve":"D3"},{"angle":50,"Ic":36.4,"curve":"D3"},{"angle":60,"Ic":34.4,"curve":"D3"},{"angle":70,"Ic":32.8,"curve":"D3"},{"angle":80,"Ic":31.8,"curve":"D3"},{"angle":90,"Ic":31.4,"curve":"D3"},{"angle":100,"Ic":31.8,"curve":"D3"},{"angle":110,"Ic":32.8,"curve":"D3"},{"angle":120,"Ic":34.4,"curve":"D3"},{"angle":130,"Ic":36.4,"curve":"D3"},{"angle":140,"Ic":38.4,"curve":"D3"},{"angle":150,"Ic":40.4,"curve":"D3"},{"angle":160,"Ic":42.0,"curve":"D3"},{"angle":170,"Ic":43.0,"curve":"D3"},{"angle":180,"Ic":43.4,"curve":"D3"},{"angle":190,"Ic":43.0,"curve":"D3"},{"angle":200,"Ic":42.0,"curve":"D3"},{"angle":210,"Ic":40.4,"curve":"D3"},{"angle":220,"Ic":38.4,"curve":"D3"},{"angle":230,"Ic":36.4,"curve":"D3"},{"angle":240,"Ic":34.4,"curve":"D3"},{"angle":250,"Ic":32.8,"curve":"D3"},{"angle":260,"Ic":31.8,"curve":"D3"},{"angle":270,"Ic":31.4,"curve":"D3"},{"angle":280,"Ic":31.8,"curve":"D3"},{"angle":290,"Ic":32.8,"curve":"D3"},{"angle":300,"Ic":34.4,"curve":"D3"},{"angle":310,"Ic":36.4,"curve":"D3"},{"angle":320,"Ic":38.4,"curve":"D3"},{"angle":330,"Ic":40.4,"curve":"D3"},{"angle":340,"Ic":42.0,"curve":"D3"},{"angle":350,"Ic":43.0,"curve":"D3"},{"angle":360,"Ic":43.4,"curve":"D3"},{"angle":370,"Ic":43.0,"curve":"D3"},

{"angle":-10,"Ic":42.8,"curve":"D4"},{"angle":0,"Ic":43.1,"curve":"D4"},{"angle":10,"Ic":42.8,"curve":"D4"},{"angle":20,"Ic":41.8,"curve":"D4"},{"angle":30,"Ic":40.2,"curve":"D4"},{"angle":40,"Ic":38.3,"curve":"D4"},{"angle":50,"Ic":36.3,"curve":"D4"},{"angle":60,"Ic":34.4,"curve":"D4"},{"angle":70,"Ic":32.9,"curve":"D4"},{"angle":80,"Ic":31.8,"curve":"D4"},{"angle":90,"Ic":31.5,"curve":"D4"},{"angle":100,"Ic":31.8,"curve":"D4"},{"angle":110,"Ic":32.9,"curve":"D4"},{"angle":120,"Ic":34.4,"curve":"D4"},{"angle":130,"Ic":36.3,"curve":"D4"},{"angle":140,"Ic":38.3,"curve":"D4"},{"angle":150,"Ic":40.2,"curve":"D4"},{"angle":160,"Ic":41.8,"curve":"D4"},{"angle":170,"Ic":42.8,"curve":"D4"},{"angle":180,"Ic":43.1,"curve":"D4"},{"angle":190,"Ic":42.8,"curve":"D4"},{"angle":200,"Ic":41.8,"curve":"D4"},{"angle":210,"Ic":40.2,"curve":"D4"},{"angle":220,"Ic":38.3,"curve":"D4"},{"angle":230,"Ic":36.3,"curve":"D4"},{"angle":240,"Ic":34.4,"curve":"D4"},{"angle":250,"Ic":32.9,"curve":"D4"},{"angle":260,"Ic":31.8,"curve":"D4"},{"angle":270,"Ic":31.5,"curve":"D4"},{"angle":280,"Ic":31.8,"curve":"D4"},{"angle":290,"Ic":32.9,"curve":"D4"},{"angle":300,"Ic":34.4,"curve":"D4"},{"angle":310,"Ic":36.3,"curve":"D4"},{"angle":320,"Ic":38.3,"curve":"D4"},{"angle":330,"Ic":40.2,"curve":"D4"},{"angle":340,"Ic":41.8,"curve":"D4"},{"angle":350,"Ic":42.8,"curve":"D4"},{"angle":360,"Ic":43.1,"curve":"D4"},{"angle":370,"Ic":42.8,"curve":"D4"}
]},
"layer":[
{"mark":{"type":"line","interpolate":"monotone","strokeWidth":1.4,"clip":true},
 "encoding":{
  "x":{"field":"angle","type":"quantitative","scale":{"domain":[-10,370],"nice":false,"zero":false},"axis":{"orient":"bottom","values":[0,90,180,270,360],"labelPadding":12,"title":"applied/local magnetic field angle [ᵒ]","titlePadding":13}},
  "y":{"field":"Ic","type":"quantitative","scale":{"domain":[20,140],"nice":false,"zero":false},"axis":{"orient":"left","values":[20,40,60,80,100,120,140],"labelPadding":11,"title":"critical current [A]","titlePadding":18}},
  "color":{"field":"curve","type":"nominal","legend":null,"scale":{"domain":["A1","A2","A3","A4","B1","B2","B3","B4","C1","C2","C3","C4","D1","D2","D3","D4"],"range":["#000000","#000000","#ff0000","#ff0000","#000000","#000000","#ff0000","#ff0000","#000000","#000000","#ff0000","#ff0000","#000000","#000000","#ff0000","#ff0000"]}},
  "strokeDash":{"field":"curve","type":"nominal","legend":null,"scale":{"domain":["A1","A2","A3","A4","B1","B2","B3","B4","C1","C2","C3","C4","D1","D2","D3","D4"],"range":[[1,0],[4,3],[1,0],[4,3],[1,0],[4,3],[1,0],[4,3],[1,0],[4,3],[1,0],[4,3],[1,0],[4,3],[1,0],[4,3]]}}
 }},
{"mark":{"type":"line","opacity":0},
 "encoding":{
  "x":{"field":"angle","type":"quantitative","scale":{"domain":[-10,370],"nice":false,"zero":false},"axis":{"orient":"top","values":[0,90,180,270,360],"labels":false,"title":null}},
  "y":{"field":"Ic","type":"quantitative","scale":{"domain":[20,140],"nice":false,"zero":false},"axis":{"orient":"right","values":[20,40,60,80,100,120,140],"labels":false,"title":null}},
  "detail":{"field":"curve","type":"nominal"}
 }}
],
"resolve":{"axis":{"x":"independent","y":"independent"}}
}
